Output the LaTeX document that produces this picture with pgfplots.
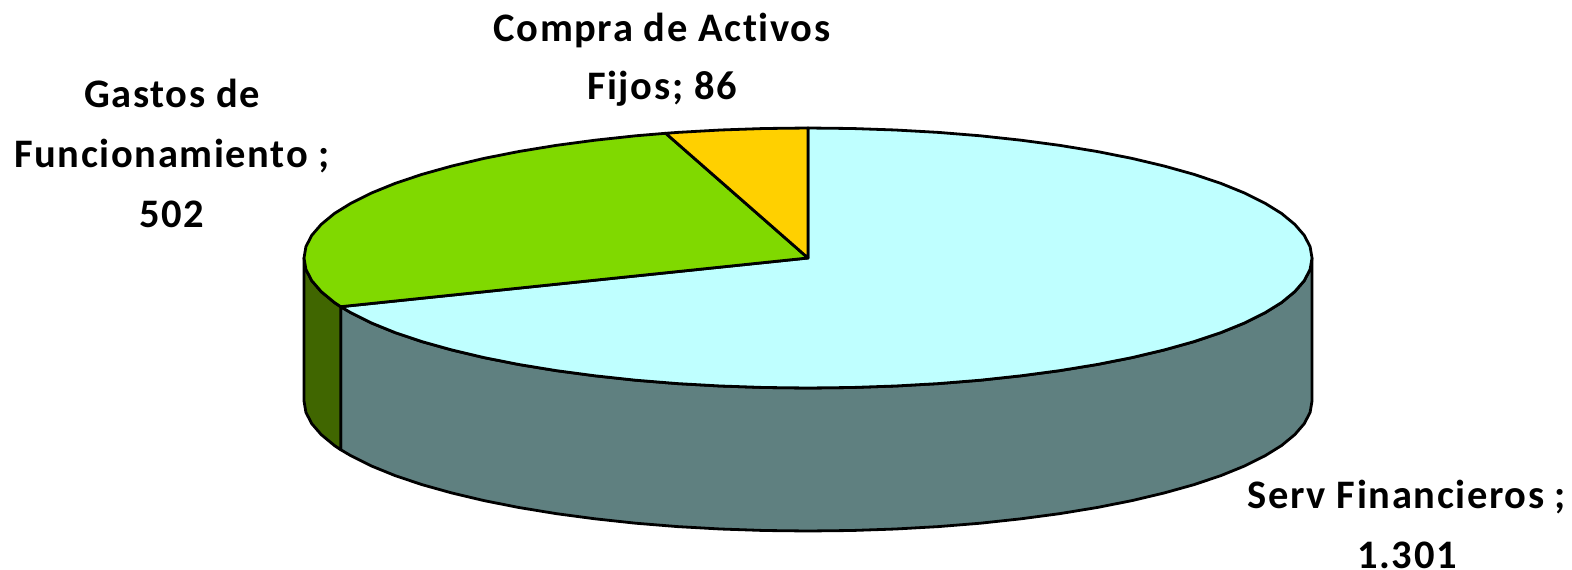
\documentclass[border=0pt]{standalone}
\usepackage{fontspec}
\setmainfont{Carlito}
\usepackage{pgfplots}
\pgfplotsset{compat=1.18}
\definecolor{cyanT}{HTML}{BFFFFF}
\definecolor{cyanS}{HTML}{5F8080}
\definecolor{greenT}{HTML}{80D900}
\definecolor{greenS}{HTML}{406600}
\definecolor{yellowT}{HTML}{FFD000}
\newcommand{\lab}{\fontsize{40.5}{59}\selectfont\bfseries\addfontfeature{LetterSpace=4,Ligatures=NoCommon}}
\begin{document}
\begin{tikzpicture}
\useasboundingbox (0,0) rectangle (1572pt,570pt);
\begin{axis}[at={(0,0)},anchor=south west,scale only axis,width=1572pt,height=570pt,xmin=-2,xmax=1570,ymin=-1,ymax=569,y dir=reverse,axis lines=none,clip=false]
% side: Serv Financieros
\addplot[fill=cyanS,draw=black,line width=2.8pt,line join=round] coordinates {
(1310,257)(1308.1,268.3)(1302.3,279.6)(1292.8,290.6)(1279.6,301.5)(1262.8,311.9)(1242.5,322)(1218.9,331.6)(1192.1,340.6)(1162.4,348.9)(1130,356.6)(1095.1,363.5)(1058,369.6)(1019,374.8)(978.4,379.2)(936.4,382.6)(893.5,385)(849.9,386.5)(806,387)(762.1,386.5)(718.5,385)(675.6,382.6)(633.6,379.2)(593,374.8)(554,369.6)(516.9,363.5)(482,356.6)(449.6,348.9)(419.9,340.6)(393.1,331.6)(369.5,322)(349.2,311.9)(338.7,305.7)
(338.7,448.7)(349.2,454.9)(369.5,465)(393.1,474.6)(419.9,483.6)(449.6,491.9)(482,499.6)(516.9,506.5)(554,512.6)(593,517.8)(633.6,522.2)(675.6,525.6)(718.5,528)(762.1,529.5)(806,530)(849.9,529.5)(893.5,528)(936.4,525.6)(978.4,522.2)(1019,517.8)(1058,512.6)(1095.1,506.5)(1130,499.6)(1162.4,491.9)(1192.1,483.6)(1218.9,474.6)(1242.5,465)(1262.8,454.9)(1279.6,444.5)(1292.8,433.6)(1302.3,422.6)(1308.1,411.3)(1310,400)
} -- cycle;
% side: Gastos de Funcionamiento
\addplot[fill=greenS,draw=black,line width=2.8pt,line join=round] coordinates {
(338.7,305.7)(332.4,301.5)(319.2,290.6)(309.7,279.6)(303.9,268.3)(302,257)
(302,400)(303.9,411.3)(309.7,422.6)(319.2,433.6)(332.4,444.5)(338.7,448.7)
} -- cycle;
% top: Serv Financieros, 1301
\addplot[fill=cyanT,draw=black,line width=2.8pt,line join=round] coordinates {
(806,257)(806,127)(849.9,127.5)(893.5,129)(936.4,131.4)(978.4,134.8)(1019,139.2)(1058,144.4)(1095.1,150.5)(1130,157.4)(1162.4,165.1)(1192.1,173.4)(1218.9,182.4)(1242.5,192)(1262.8,202.1)(1279.6,212.5)(1292.8,223.4)(1302.3,234.4)(1308.1,245.7)(1310,257)(1308.1,268.3)(1302.3,279.6)(1292.8,290.6)(1279.6,301.5)(1262.8,311.9)(1242.5,322)(1218.9,331.6)(1192.1,340.6)(1162.4,348.9)(1130,356.6)(1095.1,363.5)(1058,369.6)(1019,374.8)(978.4,379.2)(936.4,382.6)(893.5,385)(849.9,386.5)(806,387)(762.1,386.5)(718.5,385)(675.6,382.6)(633.6,379.2)(593,374.8)(554,369.6)(516.9,363.5)(482,356.6)(449.6,348.9)(419.9,340.6)(393.1,331.6)(369.5,322)(349.2,311.9)(338.7,305.7)
} -- cycle;
% top: Gastos de Funcionamiento, 502
\addplot[fill=greenT,draw=black,line width=2.8pt,line join=round] coordinates {
(806,257)(338.7,305.7)(332.4,301.5)(319.2,290.6)(309.7,279.6)(303.9,268.3)(302,257)(303.9,245.7)(309.7,234.4)(319.2,223.4)(332.4,212.5)(349.2,202.1)(369.5,192)(393.1,182.4)(419.9,173.4)(449.6,165.1)(482,157.4)(516.9,150.5)(554,144.4)(593,139.2)(633.6,134.8)(663.7,132.3)
} -- cycle;
% top: Compra de Activos Fijos, 86
\addplot[fill=yellowT,draw=black,line width=2.8pt,line join=round] coordinates {
(806,257)(663.7,132.3)(675.6,131.4)(718.5,129)(762.1,127.5)(806,127)
} -- cycle;
\node[font=\lab,align=center] at (axis cs:660,59) {Compra de Activos\\[-1pt]Fijos; 86};
\node[font=\lab,align=center] at (axis cs:170,152) {Gastos de\\[1pt]Funcionamiento ;\\[1pt]502};
\node[font=\lab,align=center] at (axis cs:1405,523) {Serv Financieros ;\\[1pt]1.301};
\end{axis}
\end{tikzpicture}
\end{document}
